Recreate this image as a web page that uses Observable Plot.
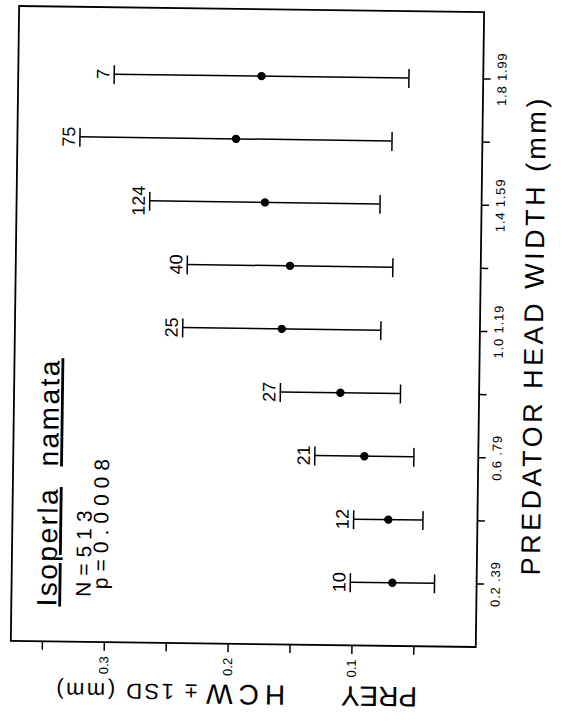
<!DOCTYPE html>
<html>
<head>
<meta charset="utf-8">
<script src="https://cdn.jsdelivr.net/npm/d3@7"></script>
<script src="https://cdn.jsdelivr.net/npm/@observablehq/plot@0.6"></script>
<style>
  html, body { margin: 0; padding: 0; background: #fff; }
  #page { position: relative; width: 568px; height: 724px; overflow: hidden; background: #fff; }
  /* the figure is laid out landscape and turned a quarter turn to stand upright on the page */
  #chart { position: absolute; left: -78px; top: 78px; width: 724px; height: 568px;
           transform: rotate(-89.25deg); transform-origin: 50% 50%; }
</style>
</head>
<body>
<div id="page"><div id="chart"></div></div>
<script>
// Predator head-width classes (mm), one per position on the x axis
const sizeClasses = ["0.2 .39", "0.4 .59", "0.6 .79", "0.8 .99", "1.0 1.19",
                     "1.2 1.39", "1.4 1.59", "1.6 1.79", "1.8 1.99"];
// number of prey measured in each class
const counts = [10, 12, 21, 27, 25, 40, 124, 75, 7];
// mean prey head-capsule width (mm) and its standard deviation
const means = [0.068, 0.072, 0.092, 0.112, 0.160, 0.154, 0.175, 0.199, 0.179];
const sds   = [0.034, 0.028, 0.040, 0.0485, 0.080, 0.083, 0.093, 0.126, 0.119];
// prey axis ticks and which of them carry a label
const yTicks = [0.05, 0.1, 0.15, 0.2, 0.25, 0.3, 0.35];
const yLabelled = ["0.1", "0.2", "0.3"];

const rows = sizeClasses.map((c, i) => ({pos: i + 1, cls: c, n: counts[i], mean: means[i], sd: sds[i]}));
const capHalf = 0.15;
const hi = d => d.mean + d.sd;
const lo = d => d.mean - d.sd;

const chart = Plot.plot({
  width: 724,
  height: 568,
  marginLeft: 79,
  marginRight: 10,
  marginTop: 14,
  marginBottom: 89,
  style: {fontFamily: "'Liberation Sans', Arial, sans-serif", fontSize: "12px", color: "black", background: "white"},
  x: {
    domain: [0, 10.06],
    ticks: rows.map(d => d.pos),
    tickFormat: d => (d % 2 === 1 ? sizeClasses[d - 1] : ""),
    tickSize: 8,
    tickPadding: 6,
    label: null
  },
  y: {
    domain: [0, 0.3755],
    ticks: yTicks,
    tickFormat: d => { const s = d.toFixed(1); return (yLabelled.includes(s) && Math.abs(+s - d) < 1e-9) ? s : ""; },
    tickSize: 8,
    tickPadding: 6,
    label: null
  },
  marks: [
    Plot.frame({strokeWidth: 1.8}),
    // ±1 SD bars with caps
    Plot.ruleX(rows, {x: "pos", y1: lo, y2: hi, strokeWidth: 1.5}),
    Plot.ruleY(rows, {y: hi, x1: d => d.pos - capHalf, x2: d => d.pos + capHalf, strokeWidth: 1.5}),
    Plot.ruleY(rows, {y: lo, x1: d => d.pos - capHalf, x2: d => d.pos + capHalf, strokeWidth: 1.5}),
    Plot.dot(rows, {x: "pos", y: "mean", r: 4.2, fill: "black"}),
    // sample sizes above each bar
    Plot.text(rows, {x: "pos", y: hi, text: d => String(d.n), dy: -5, lineAnchor: "bottom", fontSize: 18}),
    // species name and statistics
    Plot.text(["Isoperla"], {frameAnchor: "top-left", dx: 35, dy: 45, textAnchor: "start", lineAnchor: "bottom", fontSize: 28}),
    Plot.text(["namata"], {frameAnchor: "top-left", dx: 175, dy: 45, textAnchor: "start", lineAnchor: "bottom", fontSize: 28}),
    Plot.text(["N=513"], {frameAnchor: "top-left", dx: 45, dy: 79, textAnchor: "start", lineAnchor: "bottom", fontSize: 21}),
    Plot.text(["p=0.0008"], {frameAnchor: "top-left", dx: 53, dy: 96, textAnchor: "start", lineAnchor: "bottom", fontSize: 21}),
    // axis titles
    Plot.text(["PREDATOR HEAD WIDTH (mm)"], {frameAnchor: "bottom", dx: -5, dy: 63, lineAnchor: "bottom", fontSize: 27}),
    Plot.text(["PREY"], {frameAnchor: "bottom-left", dx: -41, dy: -58, rotate: -90, textAnchor: "start", lineAnchor: "bottom", fontSize: 28}),
    Plot.text(["HCW"], {frameAnchor: "bottom-left", dx: -41, dy: -190, rotate: -90, textAnchor: "start", lineAnchor: "bottom", fontSize: 28}),
    Plot.text(["± 1SD (mm)"], {frameAnchor: "bottom-left", dx: -41, dy: -278, rotate: -90, textAnchor: "start", lineAnchor: "bottom", fontSize: 22})
  ]
});

// typographic touches that the text mark has no option for
const sel = d3.select(chart);
const byText = (t) => sel.selectAll("text").filter(function () { return this.textContent === t; });
byText("Isoperla").style("text-decoration", "underline").style("letter-spacing", "2.5px");
byText("namata").style("text-decoration", "underline").style("letter-spacing", "2.5px");
byText("N=513").style("letter-spacing", "6px");
byText("p=0.0008").style("letter-spacing", "6px");
byText("PREDATOR HEAD WIDTH (mm)").style("letter-spacing", "3.5px");
byText("HCW").style("letter-spacing", "6px");
byText("± 1SD (mm)").style("letter-spacing", "2.5px");
sel.selectAll('g[aria-label^="y-axis"] text').style("font-size", "13px");
sel.selectAll('g[aria-label^="x-axis"] text').style("font-size", "13px").style("letter-spacing", "0.8px");
sel.selectAll('g[aria-label^="x-axis"] line, g[aria-label^="y-axis"] line, g[aria-label^="x-axis"] path, g[aria-label^="y-axis"] path').style("stroke-width", "1.5");

document.getElementById("chart").appendChild(chart);
</script>
</body>
</html>
